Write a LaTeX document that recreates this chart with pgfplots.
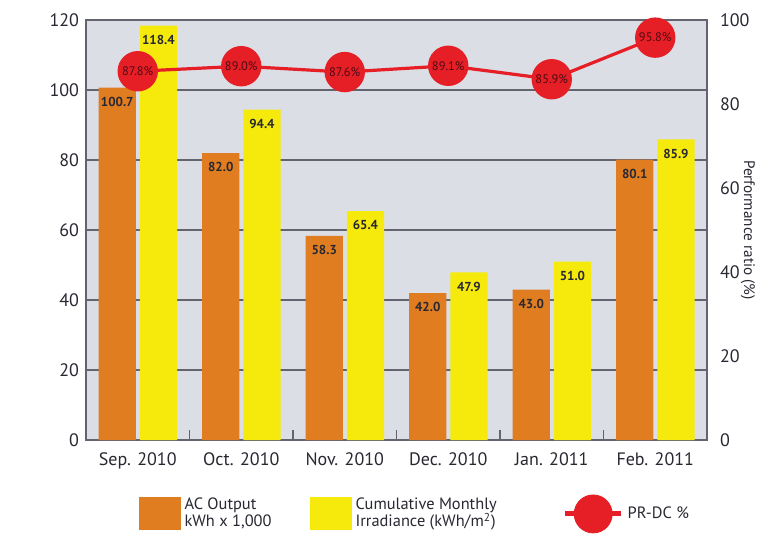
\documentclass[border=0pt]{standalone}
\usepackage{pgfplots}
\pgfplotsset{compat=1.18}
\usepackage{fontspec}
\setmainfont{PT Sans}
\definecolor{bgc}{RGB}{220,222,230}
\definecolor{orangeC}{RGB}{224,125,32}
\definecolor{yellowC}{RGB}{246,234,12}
\definecolor{redC}{RGB}{230,30,38}
\definecolor{gridC}{RGB}{100,100,112}
\definecolor{txt}{RGB}{40,40,50}
\definecolor{ptxt}{RGB}{80,10,20}
\begin{document}
\begin{tikzpicture}
\path[use as bounding box, fill=white] (-43pt,-48pt) rectangle (338.5pt,220pt);
\begin{axis}[
  at={(0pt,0pt)}, anchor=south west,
  scale only axis, width=310.5pt, height=210pt,
  xmin=-0.5, xmax=5.5, ymin=0, ymax=120,
  axis background/.style={fill=bgc},
  axis line style={gridC, line width=0.7pt},
  xtick={0.5,1.5,2.5,3.5,4.5}, xticklabels={},
  extra x ticks={0,1,2,3,4,5},
  extra x tick labels={Sep. 2010, Oct. 2010, Nov. 2010, Dec. 2010, Jan. 2011, Feb. 2011},
  extra x tick style={major tick length=0pt},
  xtick pos=bottom, ytick pos=left,
  major tick length=5pt,
  tick style={gridC, line width=0.7pt},
  ytick={0,20,...,120},
  ymajorgrids, grid style={gridC, line width=0.8pt},
  /pgf/number format/assume math mode=true,
  ticklabel style={font=\fontsize{9}{10}\selectfont, text=txt},
  xticklabel style={yshift=-3pt},
  legend columns=3,
  legend style={at={(rel axis cs:0.084,-0.176)}, anchor=west, draw=none, fill=none, inner sep=0pt,
    font=\fontsize{8.2}{8.6}\selectfont, text=txt, cells={align=left},
    /tikz/column 2/.style={column sep=17pt},
    /tikz/column 4/.style={column sep=31pt}},
  every node near coord/.append style={anchor=north, yshift=-4.5pt, inner sep=0pt,
    font=\fontsize{6.5}{7}\selectfont\bfseries, text=txt},
  nodes near coords={\pgfmathprintnumber[fixed,zerofill,precision=1]{\pgfplotspointmeta}},
]
\addplot[ybar, bar width=0.36, bar shift=-0.198, fill=orangeC, draw=none,
  every node near coord/.append style={xshift=-10.25pt},
  legend image code/.code={\fill[orangeC] (0pt,-8.25pt) rectangle (21pt,8.25pt);}]
  coordinates {(0,100.7) (1,82.0) (2,58.3) (3,42.0) (4,43.0) (5,80.1)};
\addlegendentry{AC Output\\kWh x 1,000}
\addplot[ybar, bar width=0.36, bar shift=0.2, fill=yellowC, draw=none,
  every node near coord/.append style={xshift=10.35pt},
  legend image code/.code={\fill[yellowC] (0pt,-8.25pt) rectangle (21pt,8.25pt);}]
  coordinates {(0,118.4) (1,94.4) (2,65.4) (3,47.9) (4,51.0) (5,85.9)};
\addlegendentry{Cumulative Monthly\\Irradiance (kWh/m\textsuperscript{2})}
\addlegendimage{legend image code/.code={\draw[redC, line width=2.5pt] (0pt,0pt) -- (28pt,0pt); \fill[redC] (14pt,0pt) circle (9.5pt);}}
\addlegendentry{PR-DC \%}
\node[rotate=-90, font=\fontsize{7.6}{8}\selectfont, text=txt] at (rel axis cs:-0.085,0.519) {kWh};
\end{axis}
\begin{axis}[
  at={(0pt,0pt)}, anchor=south west,
  scale only axis, width=310.5pt, height=210pt,
  xmin=-0.5, xmax=5.5, ymin=0, ymax=100,
  axis y line*=right, axis x line=none,
  y axis line style={draw=none},
  ytick={0,20,...,100}, major tick length=0pt,
  /pgf/number format/assume math mode=true,
  ticklabel style={font=\fontsize{9}{10}\selectfont, text=txt},
  yticklabel style={xshift=3pt},
  clip=false,
]
\addplot[redC, line width=1.6pt, mark=*, mark size=9.3pt, mark options={fill=redC, draw=none},
  nodes near coords={\pgfmathprintnumber[fixed,zerofill,precision=1]{\pgfplotspointmeta}\%},
  every node near coord/.append style={anchor=center, inner sep=0pt, font=\fontsize{6.2}{7}\selectfont, text=ptxt}]
  coordinates {(0,87.8) (1,89.0) (2,87.6) (3,89.1) (4,85.9) (5,95.8)};
\node[rotate=-90, font=\fontsize{7.6}{8}\selectfont, text=txt] at (rel axis cs:1.066,0.5) {Performance ratio (\%)};
\end{axis}
\end{tikzpicture}
\end{document}
